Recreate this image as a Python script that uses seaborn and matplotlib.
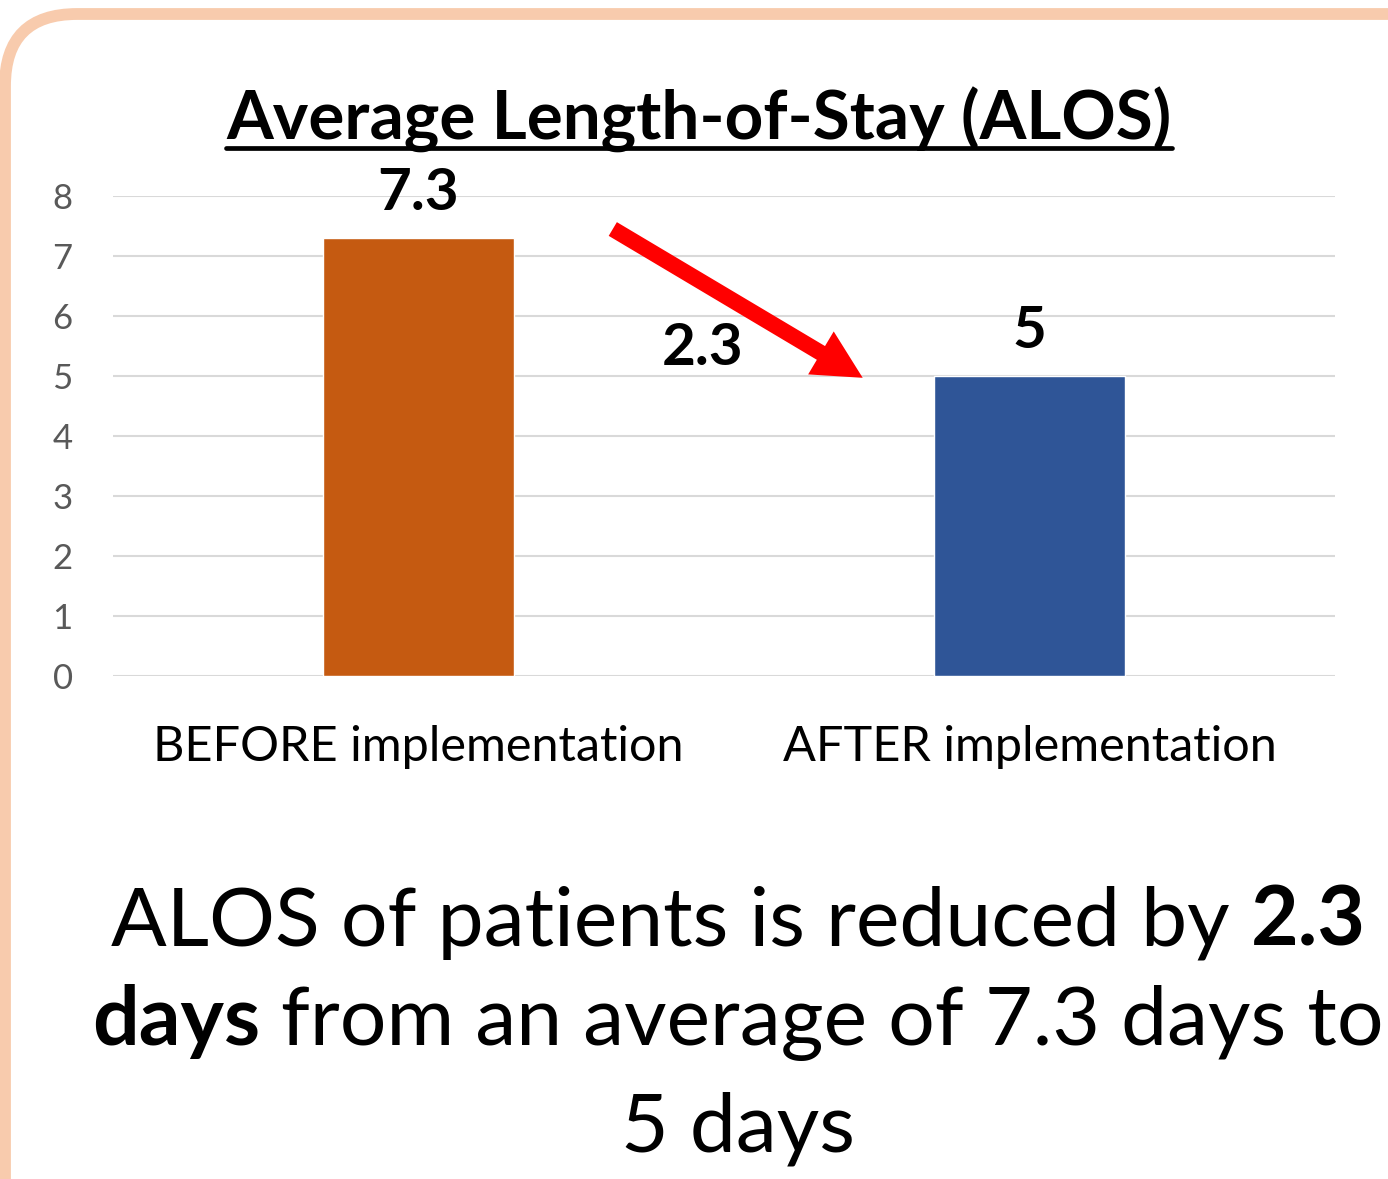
import matplotlib
matplotlib.use("Agg")
import matplotlib.pyplot as plt
import seaborn as sns
import pandas as pd
from matplotlib.patches import FancyBboxPatch
from matplotlib.lines import Line2D

# ---- data ----
categories = ["BEFORE implementation", "AFTER implementation"]
alos_values = [7.3, 5.0]
bar_colors = ["#C55A11", "#2F5597"]
y_ticks = [0, 1, 2, 3, 4, 5, 6, 7, 8]
title_text = "Average Length-of-Stay (ALOS)"
summary_lines = [
    [("ALOS of patients is reduced by", "normal"), ("2.3", "bold")],
    [("days", "bold"), ("from an average of 7.3 days to", "normal")],
    [("5 days", "normal")],
]

W, H, DPI = 1388, 1179, 100
sns.set_theme(style="white")
plt.rcParams["font.family"] = ["Lato", "DejaVu Sans"]

fig = plt.figure(figsize=(W / DPI, H / DPI), dpi=DPI)
fig.patch.set_facecolor("white")

# rounded border (peach)
border = FancyBboxPatch((0.05, -5.0), 25.0, (H - 14) / DPI + 5.0,
                        boxstyle="round,pad=0,rounding_size=0.72",
                        transform=fig.dpi_scale_trans, facecolor="none",
                        edgecolor="#F8CBAD", linewidth=8.5, zorder=0)
fig.add_artist(border)

ax = fig.add_axes([113 / W, 1 - 676 / H, (1335 - 113) / W, (676 - 196) / H])
df = pd.DataFrame({"cat": categories, "val": alos_values})
sns.barplot(data=df, x="cat", y="val", hue="cat", palette=bar_colors,
            legend=False, width=0.314, ax=ax, saturation=1, zorder=3)

ax.set_xlim(-0.5, 1.5)
ax.set_ylim(0, 8)
ax.set_yticks(y_ticks)
ax.set_yticklabels([str(t) for t in y_ticks])
ax.yaxis.grid(True, color="#D9D9D9", linewidth=1.5, zorder=0)
ax.set_axisbelow(True)
for s in ax.spines.values():
    s.set_visible(False)
ax.set_xlabel("")
ax.set_ylabel("")
ax.tick_params(axis="y", length=0, pad=29, labelsize=25, labelcolor="#595959")
ax.tick_params(axis="x", length=0, pad=35, labelsize=35, labelcolor="#000000")

# data labels
for i, v in enumerate(alos_values):
    ax.annotate(f"{v:g}", xy=(i, v), xytext=(0, 20), textcoords="offset points",
                ha="center", va="baseline", fontsize=42, fontweight="bold",
                color="black")

diff = alos_values[0] - alos_values[1]
ax.text(0.465, 5.18, f"{diff:.1f}", ha="center", va="baseline",
        fontsize=42, fontweight="bold", color="black")

# red arrow
ax.annotate("", xy=(0.727, 4.97), xytext=(0.318, 7.45),
            arrowprops=dict(arrowstyle="simple,head_length=35,head_width=36,tail_width=11.5",
                            color="#FF0000", lw=0, shrinkA=0, shrinkB=0,
                            mutation_scale=1))

renderer = fig.canvas.get_renderer()

# title with underline
t = fig.text(699 / W, 1 - 140 / H, title_text, ha="center", va="baseline",
             fontsize=48.5, fontweight="bold", color="black")
bb = t.get_window_extent(renderer)
uy = 1 - 148 / H
fig.add_artist(Line2D([bb.x0 / W, bb.x1 / W], [uy, uy], transform=fig.transFigure,
                      color="black", linewidth=3.4))

# summary text with mixed weights
def text_width(s, weight, size):
    tt = fig.text(0, 0, s, fontsize=size, fontweight=weight)
    w = tt.get_window_extent(renderer).width
    tt.remove()
    return w

def line_width(segs, size):
    sw = text_width("a a", "normal", size) - text_width("aa", "normal", size)
    return sum(text_width(s, w, size) for s, w in segs) + sw * (len(segs) - 1)

size0 = 67
size = size0 * 1290 / line_width(summary_lines[1], size0)
space_w = text_width("a a", "normal", size) - text_width("aa", "normal", size)
baselines = [946, 1045, 1152]
cx = 738
for segs, yb in zip(summary_lines, baselines):
    widths = [text_width(s, w, size) for s, w in segs]
    total = sum(widths) + space_w * (len(segs) - 1)
    x = cx - total / 2
    for (s, w), wd in zip(segs, widths):
        fig.text(x / W, 1 - yb / H, s, ha="left", va="baseline", fontsize=size,
                 fontweight=w, color="black")
        x += wd + space_w

fig.savefig("out.png", dpi=DPI, facecolor="white")
